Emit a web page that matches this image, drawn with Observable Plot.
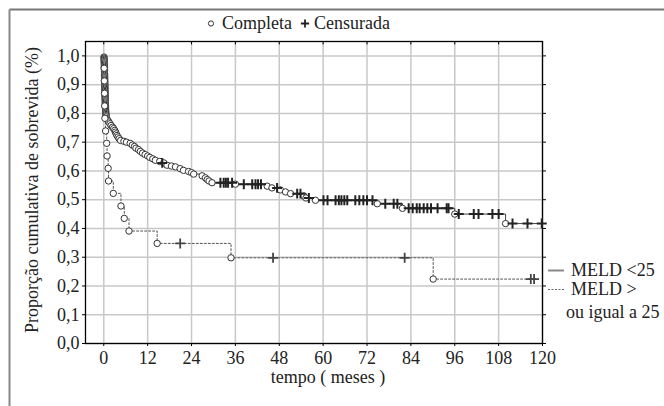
<!DOCTYPE html>
<html><head><meta charset="utf-8">
<script src="https://cdn.jsdelivr.net/npm/d3@7"></script>
<script src="https://cdn.jsdelivr.net/npm/@observablehq/plot@0.6"></script>
<style>body{margin:0;background:#fff} svg{display:block}</style>
</head><body><div id="chart"></div>
<script>
// ---- data ----
const xTicks = [0, 12, 24, 36, 48, 60, 72, 84, 96, 108, 120];
const yTicks = [0, 0.1, 0.2, 0.3, 0.4, 0.5, 0.6, 0.7, 0.8, 0.9, 1.0];
const yTickLabels = ["0,0","0,1","0,2","0,3","0,4","0,5","0,6","0,7","0,8","0,9","1,0"];
const xLabel = "tempo ( meses )";
const yLabel = "Proporção cumulativa de sobrevida (%)";
const legendTop = ["Completa", "Censurada"];
const legendRight = ["MELD <25", "MELD >", "ou igual a 25"];

// MELD < 25 : complete (event) observations
const lowEventT = [0.05,0.08,0.10,0.12,0.12,0.14,0.15,0.16,0.17,0.17,0.18,0.19,0.20,0.20,0.21,0.22,0.22,0.23,0.24,0.25,0.25,0.26,0.27,0.28,0.28,0.29,0.30,0.31,0.31,0.32,0.33,0.34,0.35,0.35,0.36,0.37,0.38,0.39,0.40,0.41,0.42,0.43,0.44,0.45,0.46,0.48,0.50,0.52,0.54,0.56,0.60,0.63,0.66,
  0.8,1.1,1.4,1.7,2.0,2.4,2.7,3.0,3.2,3.4,3.6,3.9,4.2,4.6,5.5,6.2,7.2,7.8,8.4,8.8,9.5,10.0,10.6,11.3,12.0,12.6,13.4,14.1,15.3,16.4,17.3,18.5,19.6,20.9,21.8,23.2,24.0,24.6,26.9,27.8,28.3,28.8,29.6,36.0,44.7,46.0,48.3,49.7,51.1,54.7,55.3,57.9,74.8,81.7,96.0,109.9];
const lowEventS = [0.996,0.992,0.988,0.984,0.980,0.976,0.972,0.968,0.964,0.960,0.956,0.952,0.948,0.944,0.940,0.936,0.932,0.928,0.924,0.920,0.916,0.912,0.908,0.904,0.900,0.896,0.892,0.888,0.884,0.880,0.876,0.872,0.868,0.864,0.860,0.856,0.852,0.848,0.844,0.840,0.836,0.832,0.828,0.824,0.820,0.816,0.812,0.808,0.804,0.800,0.796,0.792,0.788,
  0.782,0.776,0.770,0.764,0.758,0.752,0.747,0.741,0.735,0.729,0.723,0.718,0.712,0.706,0.703,0.700,0.696,0.690,0.685,0.679,0.674,0.668,0.662,0.657,0.652,0.647,0.642,0.637,0.633,0.628,0.620,0.617,0.614,0.608,0.602,0.598,0.594,0.589,0.583,0.576,0.570,0.565,0.559,0.554,0.547,0.541,0.534,0.527,0.521,0.513,0.506,0.498,0.486,0.470,0.450,0.417];
// MELD < 25 : censored observations
const lowCensT = [16.0,31.9,32.8,33.4,34.0,35.1,38.3,40.6,41.5,42.2,43.0,47.4,52.9,53.8,56.1,60.1,61.2,63.4,64.3,65.0,65.8,66.6,68.8,69.9,71.0,72.0,73.5,77.0,79.3,80.3,83.4,84.5,85.6,86.4,87.5,88.5,89.5,91.3,93.8,94.3,97.1,101.2,102.5,106.3,108.0,111.8,115.9,119.8];
const lowCensS = [0.628,0.559,0.559,0.559,0.559,0.559,0.554,0.554,0.554,0.554,0.554,0.541,0.521,0.521,0.506,0.498,0.498,0.498,0.498,0.498,0.498,0.498,0.498,0.498,0.498,0.498,0.498,0.486,0.486,0.486,0.470,0.470,0.470,0.470,0.470,0.470,0.470,0.470,0.470,0.470,0.450,0.450,0.450,0.450,0.450,0.417,0.417,0.417];

// MELD >= 25 : complete observations
const highEventT = [0.10,0.15,0.20,0.25,0.30,0.5,0.8,0.9,1.2,1.3,2.6,4.7,5.6,6.9,14.6,34.8,90.1];
const highEventS = [0.957,0.913,0.870,0.826,0.783,0.739,0.696,0.652,0.609,0.565,0.522,0.478,0.435,0.391,0.348,0.298,0.224];
// MELD >= 25 : censored observations
const highCensT = [20.9,46.3,82.3,116.8,117.7];
const highCensS = [0.348,0.298,0.298,0.224,0.224];

// ---- build tables ----
const toRows = (T, S) => T.map((t, i) => ({t, s: S[i]}));
const lowEvents = toRows(lowEventT, lowEventS);
const lowCens = toRows(lowCensT, lowCensS);
const highEvents = toRows(highEventT, highEventS);
const highCens = toRows(highCensT, highCensS);
const curve = (ev, ce) => [{t: 0, s: 1}, ...ev, ...ce].sort((a, b) => a.t - b.t || b.s - a.s);
const lowLine = curve(lowEvents, lowCens);
const highLine = curve(highEvents, highCens);

const fontFamily = '"Liberation Serif", "DejaVu Serif", serif';
const ink = "#222";

const plot = Plot.plot({
  width: 664, height: 406,
  marginLeft: 85, marginRight: 122, marginTop: 41, marginBottom: 63,
  style: {fontFamily, fontSize: "18px", color: ink, background: "#fff"},
  x: {domain: [-5, 120], label: null},
  y: {domain: [0, 1.05], label: null},
  marks: [
    Plot.gridX(xTicks, {stroke: "#c8c8c8", strokeOpacity: 1, strokeWidth: 1.5}),
    Plot.gridY(yTicks, {stroke: "#c8c8c8", strokeOpacity: 1, strokeWidth: 1.5}),
    Plot.axisX(xTicks, {tickSize: 3, tickPadding: 5, tickFormat: d => String(d), label: null, stroke: "#000", fontFamily}),
    Plot.axisY(yTicks, {tickSize: 3, tickPadding: 3, tickFormat: (d, i) => yTickLabels[i], label: null, stroke: "#000", fontFamily}),
    Plot.axisY(yTicks, {anchor: "right", tickSize: 3, tickFormat: () => "", label: null, stroke: "#000"}),
    Plot.ruleX(xTicks, {x: d => d, y1: 1.05, y2: 1.038, stroke: "#000"}),
    Plot.frame({stroke: "#000", strokeWidth: 1.3}),
    Plot.line(highLine, {x: "t", y: "s", curve: "step-after", stroke: "#555", strokeWidth: 1, strokeDasharray: "2,2"}),
    Plot.line(lowLine, {x: "t", y: "s", curve: "step-after", stroke: "#444", strokeWidth: 1}),
    Plot.dot(lowEvents, {x: "t", y: "s", r: 3.2, stroke: "#333", fill: "#fff", strokeWidth: 1}),
    Plot.dot(highEvents, {x: "t", y: "s", r: 3.2, stroke: "#333", fill: "#fff", strokeWidth: 1}),
    Plot.dot(lowCens, {x: "t", y: "s", symbol: "plus", r: 3.3, stroke: "#222", strokeWidth: 2, fill: "none"}),
    Plot.dot(highCens, {x: "t", y: "s", symbol: "plus", r: 3.3, stroke: "#444", strokeWidth: 1.8, fill: "none"})
  ]
});

const svg = d3.select(plot);
// outer frame (top and left)
svg.append("line").attr("x1", 9.5).attr("y1", 9.5).attr("x2", 664).attr("y2", 9.5).attr("stroke", "#777").attr("stroke-width", 2);
svg.append("line").attr("x1", 9.5).attr("y1", 9.5).attr("x2", 9.5).attr("y2", 406).attr("stroke", "#888").attr("stroke-width", 2);

const txt = (x, y, s, anchor = "start") => svg.append("text").attr("x", x).attr("y", y)
  .attr("text-anchor", anchor).attr("fill", ink).attr("font-family", fontFamily).attr("font-size", 18).text(s);

// axis titles
txt(328, 383, xLabel, "middle");
svg.append("text").attr("transform", "translate(38,190) rotate(-90)").attr("text-anchor", "middle")
  .attr("fill", ink).attr("font-family", fontFamily).attr("font-size", 18).text(yLabel);

// top legend
svg.append("circle").attr("cx", 211).attr("cy", 23.5).attr("r", 2.6).attr("fill", "#fff").attr("stroke", "#333");
txt(222, 29, legendTop[0]);
svg.append("path").attr("d", d3.symbol(d3.symbolPlus, 24)()).attr("transform", "translate(305,23.5)")
  .attr("fill", "none").attr("stroke", "#222").attr("stroke-width", 1.8);
txt(314, 29, legendTop[1]);

// right legend
svg.append("line").attr("x1", 548).attr("x2", 564).attr("y1", 270.5).attr("y2", 270.5).attr("stroke", "#888").attr("stroke-width", 2);
txt(571, 276, legendRight[0]);
svg.append("line").attr("x1", 548).attr("x2", 564).attr("y1", 289.5).attr("y2", 289.5).attr("stroke", "#666").attr("stroke-width", 1).attr("stroke-dasharray", "2,1.5");
txt(571, 295, legendRight[1]);
txt(566, 318, legendRight[2]);

document.getElementById("chart").appendChild(plot);
</script>
</body></html>
